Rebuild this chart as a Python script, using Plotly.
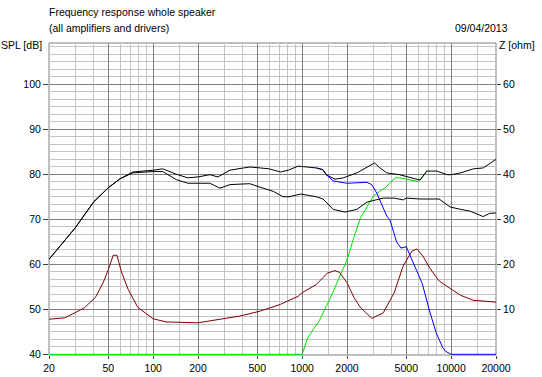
import plotly.graph_objects as go

# ---------------- data ----------------
f_total = [20, 30, 40, 50, 60, 73, 100, 116, 143, 171, 200, 240, 272, 328, 404, 446, 523, 600, 715, 807,
           940, 1050, 1245, 1380, 1450, 1660, 1890, 2330, 3060, 3300, 3700, 4500, 5200, 6190, 6860, 8000,
           9400, 10000, 11600, 14100, 16400, 17500, 20000]
spl_total = [61.1, 68.1, 73.9, 77.0, 79.0, 80.5, 80.9, 81.2, 80.0, 79.2, 79.4, 79.9, 79.4, 80.9, 81.4, 81.6, 81.4, 81.2, 80.5, 80.9,
             81.8, 81.7, 81.4, 81.0, 79.9, 78.9, 79.2, 80.3, 82.5, 81.5, 80.3, 79.9, 79.4, 78.7, 80.7, 80.7,
             79.9, 79.9, 80.3, 81.2, 81.4, 82.0, 83.3]

f_off = [20, 30, 40, 50, 60, 73, 100, 116, 143, 171, 240, 281, 328, 445, 513, 640, 745, 816, 980, 1245,
         1380, 1616, 1940, 2330, 2720, 3000, 3500, 4150, 4760, 5000, 6190, 8300, 9870, 11600, 13400, 16400,
         18100, 20000]
spl_off = [61.1, 68.1, 73.9, 77.0, 79.0, 80.3, 80.6, 80.6, 78.8, 78.0, 78.0, 76.9, 77.7, 77.9, 77.2, 76.2, 75.0, 75.0, 75.6, 75.0,
           74.5, 72.2, 71.6, 72.2, 73.8, 74.2, 74.7, 74.7, 74.3, 74.7, 74.5, 74.5, 72.7, 72.2, 71.8, 70.6,
           71.3, 71.4]

# woofer: visible part (below 1245 Hz it lies under the total-response curve)
f_woofer = [1245, 1380, 1450, 1620, 2000, 2720, 2930, 3170, 3700, 3880, 4300, 4600, 5000, 5560,
            6400, 7170, 7930, 8780, 9150, 9870, 10000, 20000]
spl_woofer = [81.4, 81.0, 79.9, 78.5, 78.0, 78.2, 77.7, 75.8, 70.7, 69.9, 65.0, 63.6, 63.9, 60.5,
              55.7, 49.6, 44.8, 41.5, 40.7, 40.1, 40.0, 40.0]

# tweeter: visible part (above ~7 kHz it lies under the total-response curve)
f_tweeter = [20, 1000, 1090, 1310, 1530, 1750, 1960, 2070, 2200, 2460, 2570, 2720, 3000, 3310, 3580, 3880,
             4200, 4500, 5260, 5990, 6470, 6860]
spl_tweeter = [40.0, 40.0, 43.7, 47.6, 52.2, 56.5, 60.3, 62.5, 65.5, 70.3, 71.4, 72.9, 75.1, 76.2, 76.9, 78.0,
               79.2, 79.2, 78.8, 78.4, 79.5, 80.7]

f_imp = [20, 25.5, 30.6, 34.7, 40.9, 46.2, 50, 53.9, 57.2, 61, 68, 79, 100, 122, 200, 281, 382, 523, 715, 940,
         1000, 1245, 1470, 1660, 1780, 2000, 2230, 2450, 2930, 3500, 4150, 4760, 5450, 5890, 6470, 7170,
         8300, 9870, 11600, 14100, 17200, 20000]
z_imp = [7.8, 8.1, 9.4, 10.4, 12.6, 15.9, 18.8, 22.0, 22.0, 18.5, 14.4, 10.4, 7.9, 7.2, 7.0, 7.8, 8.5, 9.6, 11.1, 12.9,
         13.7, 15.5, 18.0, 18.6, 18.2, 15.9, 12.6, 10.5, 8.0, 9.2, 13.7, 19.6, 22.9, 23.4, 21.8, 19.2,
         16.3, 14.6, 13.1, 12.0, 11.8, 11.6]

x_ticks = [20, 50, 100, 200, 500, 1000, 2000, 5000, 10000, 20000]
x_minor = [30, 40, 60, 70, 80, 90, 150, 300, 400, 600, 700, 800, 900, 1500, 3000, 4000,
           6000, 7000, 8000, 9000, 15000]
spl_ticks = [40, 50, 60, 70, 80, 90, 100]
z_ticks = [10, 20, 30, 40, 50, 60]

# ---------------- figure ----------------
FONT = "Arial, Liberation Sans, sans-serif"
FS = 10.5
fig = go.Figure()

fig.add_trace(go.Scatter(x=f_tweeter, y=spl_tweeter, mode="lines",
                         line=dict(color="#00e000", width=1), yaxis="y"))
fig.add_trace(go.Scatter(x=f_woofer, y=spl_woofer, mode="lines",
                         line=dict(color="#0000ff", width=1), yaxis="y"))
fig.add_trace(go.Scatter(x=f_imp, y=z_imp, mode="lines",
                         line=dict(color="#800000", width=1), yaxis="y2"))
fig.add_trace(go.Scatter(x=f_off, y=spl_off, mode="lines",
                         line=dict(color="#000000", width=1), yaxis="y"))
fig.add_trace(go.Scatter(x=f_total, y=spl_total, mode="lines",
                         line=dict(color="#000000", width=1), yaxis="y"))

y_lo, y_hi = 39.85, 109.15

fig.update_layout(
    width=542, height=377,
    margin=dict(l=49, r=46, t=43, b=22),
    paper_bgcolor="white", plot_bgcolor="white",
    showlegend=False,
    font=dict(family=FONT, size=FS, color="black"),
    xaxis=dict(
        type="log", range=[1.30103, 4.30103], automargin=False,
        tickmode="array", tickvals=x_ticks, ticktext=[str(v) for v in x_ticks],
        showgrid=True, gridcolor="#808080", gridwidth=1,
        minor=dict(tickmode="array", tickvals=x_minor, showgrid=True,
                   gridcolor="#c4c4c4", gridwidth=1, ticks=""),
        ticks="outside", ticklen=3, tickcolor="#404040",
        showline=False, zeroline=False, tickfont=dict(size=FS),
    ),
    yaxis=dict(
        range=[y_lo, y_hi], automargin=False,
        tickmode="array", tickvals=spl_ticks,
        showgrid=True, gridcolor="#808080", gridwidth=1,
        minor=dict(dtick=10 / 6, tick0=40, showgrid=True, gridcolor="#c4c4c4", gridwidth=1, ticks=""),
        ticks="outside", ticklen=5, tickcolor="#404040",
        showline=False, zeroline=False, tickfont=dict(size=FS),
    ),
    yaxis2=dict(
        overlaying="y", side="right", automargin=False,
        range=[y_lo - 40, y_hi - 40],
        tickmode="array", tickvals=z_ticks,
        showgrid=False, zeroline=False,
        ticks="outside", ticklen=4, tickcolor="#404040",
        showline=False, tickfont=dict(size=FS),
    ),
    shapes=[dict(type="rect", xref="paper", yref="paper", x0=0, x1=1, y0=0, y1=1,
                 line=dict(color="#808080", width=1), layer="below")],
)

W, H = 447.0, 312.0
def px(x):
    return (x - 49) / W
def py(y):
    return (355 - y) / H

def ann(text, x, y, xanchor):
    fig.add_annotation(text=text, x=x, y=y, xref="paper", yref="paper",
                       xanchor=xanchor, yanchor="middle", showarrow=False,
                       font=dict(family=FONT, size=FS, color="black"))

ann("Frequency response whole speaker", px(47), py(12.5), "left")
ann("(all amplifiers and drivers)", px(47), py(28), "left")
ann("09/04/2013", px(510), py(28), "right")
ann("SPL [dB]", px(-1), py(45), "left")
ann("Z [ohm]", px(497), py(45), "left")

fig.write_html("out.html",
               config={"displayModeBar": False},
               post_script="document.body.style.margin='0';document.body.style.overflow='hidden';")
